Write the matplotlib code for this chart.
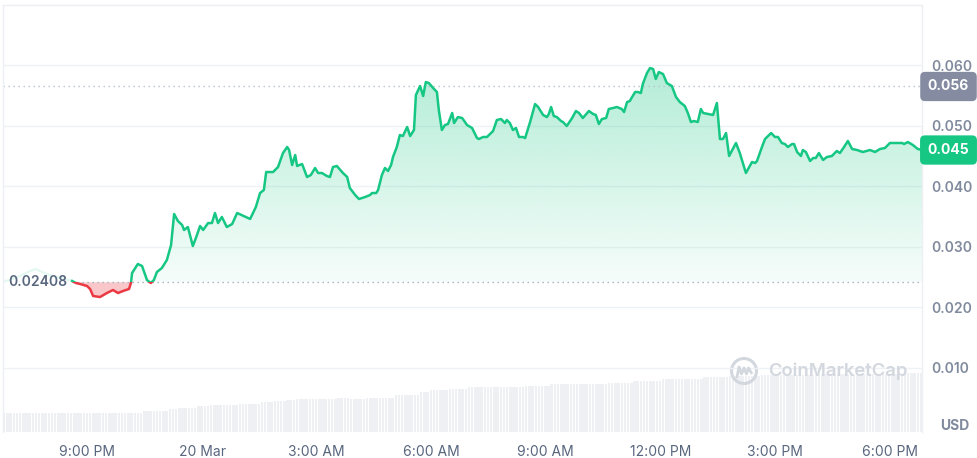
import math
import numpy as np
import matplotlib
matplotlib.use("Agg")
import matplotlib.pyplot as plt
import matplotlib.transforms as mtransforms
from matplotlib.path import Path
from matplotlib.patches import PathPatch, Rectangle, Circle
from matplotlib.lines import Line2D

plt.rcParams['font.family'] = ['Inter', 'DejaVu Sans']

# ---------------- data ----------------
# hours relative to 20 Mar 00:00
hours = [
    -5.21, -4.97, -4.71, -4.50, -4.35, -4.19, -3.98, -3.72, -3.40,
    -3.30, -3.19, -3.01, -2.93, -2.85, -2.67, -2.49, -2.33, -2.20, -2.07, -1.91, -1.86,
    -1.83, -1.68, -1.57, -1.44, -1.34, -1.26, -1.18, -1.05, -0.92, -0.81, -0.73, -0.63, -0.52, -0.47, -0.37, -0.24, -0.16, -0.05,
    0.03, 0.16, 0.26, 0.34, 0.42, 0.52, 0.65, 0.79, 0.92, 1.26, 1.41, 1.52, 1.62, 1.68, 1.86, 1.99, 2.12, 2.23, 2.28, 2.36, 2.44, 2.49,
    2.62, 2.75, 2.85, 2.96, 3.04, 3.14, 3.27, 3.35, 3.43, 3.53, 3.69, 3.80, 3.87, 4.01, 4.11, 4.27, 4.40, 4.45, 4.56, 4.61,
    4.71, 4.79, 4.87, 4.95, 5.00, 5.10, 5.18, 5.26, 5.37, 5.45, 5.55, 5.60, 5.71, 5.79, 5.86, 5.94, 6.05, 6.15, 6.20, 6.28,
    6.36, 6.44, 6.55, 6.60, 6.70, 6.81, 6.94, 7.07, 7.20, 7.25, 7.36, 7.46, 7.54, 7.62, 7.72, 7.83, 7.93, 7.98, 8.06, 8.14,
    8.22, 8.30, 8.40, 8.46, 8.59, 8.72, 8.80, 8.93, 9.03, 9.08, 9.14, 9.21, 9.29, 9.40, 9.45, 9.55, 9.69, 9.79, 9.87, 9.97,
    10.13, 10.24, 10.31, 10.39, 10.47, 10.58, 10.65, 10.76, 10.86, 10.99, 11.05, 11.13, 11.20, 11.26, 11.34, 11.41, 11.49, 11.54, 11.65, 11.73,
    11.81, 11.88, 11.96, 12.07, 12.17, 12.30, 12.41, 12.51, 12.64, 12.72, 12.80, 12.88, 12.98, 13.06, 13.12, 13.25, 13.38, 13.48, 13.56, 13.64,
    13.72, 13.80, 13.98, 14.08, 14.24, 14.40, 14.48, 14.53, 14.66, 14.74, 14.90, 15.00, 15.08, 15.18, 15.26, 15.34, 15.45, 15.50, 15.58, 15.68,
    15.73, 15.81, 15.92, 16.00, 16.07, 16.15, 16.26, 16.36, 16.49, 16.62, 16.70, 16.81, 16.91, 17.02, 17.15, 17.30, 17.49, 17.62, 17.75, 17.88,
    18.01, 18.19, 18.33, 18.38, 18.48, 18.61, 18.74, 18.85,
]
prices = [
    0.02413, 0.02463, 0.02529, 0.02595, 0.02628, 0.02579, 0.02529, 0.02479, 0.02430,
    0.02397, 0.02380, 0.02347, 0.02298, 0.02182, 0.02165, 0.02231, 0.02281, 0.02231, 0.02264, 0.02298, 0.02400,
    0.02562, 0.02711, 0.02678, 0.02446, 0.02397, 0.02446, 0.02579, 0.02645, 0.02777, 0.03025, 0.03537, 0.03421, 0.03355, 0.03273, 0.03322, 0.03008, 0.03140, 0.03339,
    0.03273, 0.03388, 0.03388, 0.03554, 0.03388, 0.03488, 0.03322, 0.03372, 0.03554, 0.03455, 0.03653, 0.03884, 0.03934, 0.04231, 0.04231, 0.04314, 0.04545, 0.04645, 0.04595, 0.04347, 0.04512, 0.04331,
    0.04364, 0.04149, 0.04182, 0.04298, 0.04215, 0.04215, 0.04165, 0.04149, 0.04314, 0.04331, 0.04215, 0.04149, 0.03967, 0.03851, 0.03785, 0.03818, 0.03851, 0.03884, 0.03884, 0.03934,
    0.04182, 0.04298, 0.04248, 0.04347, 0.04479, 0.04645, 0.04843, 0.04826, 0.04975, 0.04826, 0.04926, 0.05504, 0.05653, 0.05488, 0.05719, 0.05702, 0.05620, 0.05554, 0.05256, 0.04926,
    0.05008, 0.05025, 0.05207, 0.05041, 0.05140, 0.05124, 0.05008, 0.04959, 0.04793, 0.04777, 0.04810, 0.04810, 0.04860, 0.04909, 0.05091, 0.05107, 0.05041, 0.05091, 0.05041, 0.04926,
    0.04959, 0.04810, 0.04810, 0.04793, 0.05058, 0.05355, 0.05306, 0.05174, 0.05140, 0.05190, 0.05306, 0.05157, 0.05140, 0.05074, 0.05058, 0.04992, 0.05124, 0.05240, 0.05207, 0.05124,
    0.05240, 0.05190, 0.05174, 0.05025, 0.05107, 0.05124, 0.05273, 0.05289, 0.05306, 0.05273, 0.05223, 0.05388, 0.05405, 0.05471, 0.05554, 0.05554, 0.05537, 0.05686, 0.05868, 0.05950,
    0.05934, 0.05769, 0.05884, 0.05851, 0.05702, 0.05653, 0.05471, 0.05388, 0.05322, 0.05207, 0.05058, 0.05074, 0.05058, 0.05273, 0.05207, 0.05190, 0.05174, 0.05372, 0.04777, 0.04777,
    0.04876, 0.04496, 0.04711, 0.04545, 0.04215, 0.04397, 0.04380, 0.04413, 0.04645, 0.04777, 0.04876, 0.04810, 0.04810, 0.04711, 0.04694, 0.04645, 0.04694, 0.04694, 0.04562, 0.04496,
    0.04595, 0.04562, 0.04413, 0.04463, 0.04463, 0.04545, 0.04430, 0.04479, 0.04496, 0.04579, 0.04545, 0.04645, 0.04744, 0.04612, 0.04595, 0.04562, 0.04595, 0.04562, 0.04612, 0.04628,
    0.04711, 0.04711, 0.04711, 0.04694, 0.04727, 0.04678, 0.04612, 0.04595,
]
fade_until_hour = -3.40          # start of the highlighted window
base_price = 0.02408            # opening reference price
high_price = 0.05645            # marked level

# volume (arbitrary units), stepped levels
vol_seg_start = [-5.21, -1.86, -1.62, -0.92, -0.71, -0.13, 0.16, 0.92, 1.52, 1.83, 2.17, 2.43,
                 3.48, 3.82, 4.27, 4.97, 5.65, 5.92, 6.44, 6.88, 7.28, 8.40, 9.11, 10.60,
                 11.28, 11.99, 13.04, 13.74, 14.61, 15.99, 18.35]
vol_seg_value = [193, 187, 210, 227, 243, 260, 273, 283, 297, 310, 320, 330,
                 343, 330, 343, 370, 403, 420, 430, 447, 453, 463, 480, 493,
                 513, 530, 547, 563, 570, 580, 593]

x_tick_hours = [-3, 0, 3, 6, 9, 12, 15, 18]
x_tick_labels = ['9:00 PM', '20 Mar', '3:00 AM', '6:00 AM', '9:00 AM', '12:00 PM', '3:00 PM', '6:00 PM']
y_ticks = [0.010, 0.020, 0.030, 0.040, 0.050, 0.060]

# ---------------- style ----------------
GREEN = '#16c784'
RED = '#ea3943'
GRID = '#eff2f5'
TICK = '#808a9d'
XTICK = '#58667e'

W, H = 977, 458
fig = plt.figure(figsize=(W / 100, H / 100), dpi=100)
fig.patch.set_facecolor('white')

L, R, T, B = 3, 922, 5, 432
pos = [L / W, (H - B) / H, (R - L) / W, (B - T) / H]
xmin, xmax = -5.21, 18.85
ymin, ymax = -0.00066, 0.06992

# volume axes (behind)
axv = fig.add_axes(pos, zorder=0)
axv.set_xlim(xmin, xmax)
axv.set_ylim(0, 4270)
axv.axis('off')
step = 5 / 60
bar_t = np.arange(xmin, xmax, step)
idx = np.searchsorted(np.array(vol_seg_start), bar_t, side='right') - 1
bar_v = np.array(vol_seg_value)[np.clip(idx, 0, None)]
axv.bar(bar_t, bar_v, width=step * 0.78, align='edge', color='#eef0f4', linewidth=0)

# main axes
ax = fig.add_axes(pos, zorder=1)
ax.patch.set_alpha(0)
ax.set_xlim(xmin, xmax)
ax.set_ylim(ymin, ymax)

t_all = np.array(hours)
p_all = np.array(prices)
k = int(np.searchsorted(t_all, fade_until_hour))
t = t_all[k:]
p = p_all[k:]

# grid
ax.set_yticks(y_ticks)
ax.set_yticklabels([f'{v:.3f}' for v in y_ticks])
ax.grid(axis='y', color=GRID, lw=1)
ax.set_axisbelow(True)
ax.yaxis.tick_right()
ax.tick_params(axis='y', length=0, pad=6.5, labelsize=10, labelcolor=TICK)
for lab in ax.get_yticklabels():
    lab.set_fontweight('semibold')
ax.set_xticks(x_tick_hours)
ax.set_xticklabels(x_tick_labels)
ax.tick_params(axis='x', length=0, pad=9, labelsize=10, labelcolor=XTICK)

for s in ['left', 'top', 'right']:
    ax.spines[s].set_color('#eceff3')
    ax.spines[s].set_linewidth(1)
ax.spines['bottom'].set_visible(False)

# gradient green fill above base
fg = ax.fill_between(t, p, base_price, where=p >= base_price, interpolate=True,
                     facecolor='none', edgecolor='none')
cpath = Path.make_compound_path(*fg.get_paths())
cpatch = PathPatch(cpath, transform=ax.transData, facecolor='none', edgecolor='none')
ax.add_patch(cpatch)
n = 256
alpha = np.linspace(0.04, 0.33, n).reshape(-1, 1)
rgba = np.zeros((n, 1, 4))
rgba[..., 0] = 22 / 255
rgba[..., 1] = 199 / 255
rgba[..., 2] = 132 / 255
rgba[..., 3] = alpha
im = ax.imshow(rgba, extent=[xmin, xmax, base_price, 0.0600], origin='lower',
               aspect='auto', zorder=1, interpolation='bilinear')
im.set_clip_path(cpatch)

# red fill below base
ax.fill_between(t, p, base_price, where=p <= base_price, interpolate=True,
                facecolor=RED, alpha=0.28, edgecolor='none', zorder=1)

# lines
up_clip = Rectangle((xmin - 1, base_price), xmax - xmin + 2, 1, transform=ax.transData)
dn_clip = Rectangle((xmin - 1, base_price - 1), xmax - xmin + 2, 1, transform=ax.transData)
gl, = ax.plot(t, p, color=GREEN, lw=1.8, zorder=3, solid_joinstyle='round')
gl.set_clip_path(up_clip)
rl, = ax.plot(t, p, color=RED, lw=1.8, zorder=3, solid_joinstyle='round')
rl.set_clip_path(dn_clip)

# faded part before the window
ax.plot(t_all[:k + 1], p_all[:k + 1], color=GREEN, lw=1.6, alpha=0.12, zorder=2)

# dotted reference lines
ax.hlines(base_price, fade_until_hour, xmax, color='#a6b0c3', lw=1, ls=(0, (1, 2.6)), zorder=2)
ax.axhline(high_price, color='#b8c0cf', lw=1, ls=(0, (1, 2.6)), zorder=2)

# base price label
ax.text(-4.29, base_price, f'{base_price:.5f}', ha='center', va='center', fontsize=10,
        fontweight='semibold', color=XTICK, zorder=5)

# right badges
blend = mtransforms.blended_transform_factory(ax.transAxes, ax.transData)
bx = (948.5 - L) / (R - L)
ax.text(bx, high_price, f'{math.floor(high_price * 1000) / 1000:.3f}', transform=blend,
        ha='center', va='center', fontsize=10, fontweight='bold', color='white', zorder=6,
        bbox=dict(boxstyle='round,pad=0.55,rounding_size=0.35', fc='#858ca2', ec='none'))
last = prices[-1]
ax.text(bx, last, f'{math.floor(last * 1000) / 1000:.3f}', transform=blend,
        ha='center', va='center', fontsize=10, fontweight='bold', color='white', zorder=6,
        bbox=dict(boxstyle='round,pad=0.55,rounding_size=0.35', fc=GREEN, ec='none'))

# USD label
fig.text(955 / W, 1 - 426 / H, 'USD', ha='center', va='center', fontsize=10,
         fontweight='bold', color=TICK)

# watermark
idt = mtransforms.IdentityTransform()
wm = '#d3d7de'
fig.add_artist(Circle((744, H - 371), 12.5, transform=idt, fill=False, ec=wm, lw=2.2))
mx = [-7, -5, -2.5, 0, 2.5, 4.5, 7.5]
my = [-6, 4, -3, 3, -3, 3, -2]
fig.add_artist(Line2D([744 + a for a in mx], [H - 371 + b for b in my], transform=idt,
                      color=wm, lw=2.0, solid_joinstyle='round', solid_capstyle='round'))
fig.text(768 / W, 1 - 371 / H, 'CoinMarketCap', ha='left', va='center', fontsize=13.3,
         fontweight='semibold', color=wm)

fig.savefig('out.png', dpi=100, facecolor='white')
